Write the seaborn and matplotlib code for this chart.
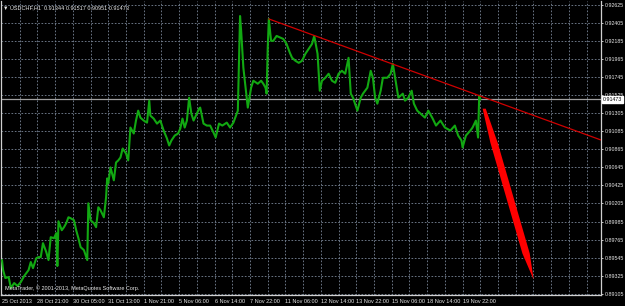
import numpy as np
import pandas as pd
import matplotlib
matplotlib.use("Agg")
import matplotlib.pyplot as plt
import matplotlib.transforms as mtransforms
import seaborn as sns

# ---------------- data ----------------
bars = [0, 1, 3, 6, 8, 11, 14, 17, 20, 22, 24, 26, 28, 31, 33, 35, 37, 40, 42, 44,
        47, 49, 50, 51, 54, 56, 58, 60, 62, 65, 67, 69, 71, 74, 77, 78, 80, 83, 85, 87,
        89, 92, 94, 95, 96, 98, 101, 103, 105, 107, 109, 112, 114, 116, 119, 121, 123, 125, 128, 131,
        133, 134, 137, 140, 143, 146, 149, 151, 153, 156, 159, 161, 163, 165, 167, 169, 171, 173, 176, 178,
        179, 182, 185, 188, 191, 193, 196, 199, 203, 206, 209, 212, 213, 215, 216, 218, 220, 222, 225, 227,
        231, 234, 236, 238, 239, 240, 241, 243, 245, 248, 252, 254, 257, 260, 262, 265, 268, 271, 274, 277,
        280, 282, 285, 287, 289, 292, 295, 298, 301, 304, 307, 310, 313, 315, 317, 321, 324, 326, 330, 333,
        335, 337, 339, 342, 344, 348, 351, 353, 356, 358, 362, 364, 367, 370, 372, 375, 378, 382, 385, 389,
        392, 396, 400, 405, 409, 412, 415, 416, 419, 423, 425, 428, 430, 431, 432]
close = [0.89515, 0.89393, 0.89296, 0.89308, 0.89175, 0.89235, 0.89199, 0.89247, 0.89320, 0.89357,
         0.89393, 0.89491, 0.89417, 0.89539, 0.89551, 0.89551, 0.89721, 0.89612, 0.89515, 0.89794,
         0.89782, 0.89843, 0.89442, 0.89988, 0.89879, 0.89916, 0.89964, 0.90037, 0.90025, 0.90001,
         0.89879, 0.89782, 0.89673, 0.89636, 0.89515, 0.90207, 0.90001, 0.89964, 0.89916, 0.90159,
         0.90122, 0.90037, 0.90280, 0.90511, 0.90450, 0.90645, 0.90487, 0.90705, 0.90730, 0.90766,
         0.90875, 0.90815, 0.90730, 0.91131, 0.91058, 0.91216, 0.91337, 0.91252, 0.91216, 0.91191,
         0.91459, 0.91276, 0.91240, 0.91179, 0.91216, 0.91094, 0.90997, 0.90912, 0.90973, 0.91033,
         0.91058, 0.91118, 0.91240, 0.91131, 0.91216, 0.91495, 0.91301, 0.91216, 0.91301, 0.91361,
         0.91374, 0.91179, 0.91155, 0.91155, 0.91070, 0.91009, 0.91179, 0.91155, 0.91191, 0.91131,
         0.91191, 0.91301, 0.91337, 0.92491, 0.92309, 0.91860, 0.91617, 0.91374, 0.91617, 0.91702,
         0.91665, 0.91702, 0.91665, 0.91617, 0.91544, 0.92103, 0.92455, 0.92188, 0.92188, 0.92248,
         0.92224, 0.92212, 0.92151, 0.92042, 0.91981, 0.91945, 0.91920, 0.91945, 0.92030, 0.92090,
         0.92151, 0.92248, 0.92030, 0.91580, 0.91702, 0.91738, 0.91787, 0.91702, 0.91677, 0.91787,
         0.91823, 0.91787, 0.91981, 0.91544, 0.91495, 0.91337, 0.91495, 0.91544, 0.91617, 0.91823,
         0.91738, 0.91495, 0.91422, 0.91580, 0.91738, 0.91738, 0.91787, 0.91908, 0.91665, 0.91495,
         0.91544, 0.91459, 0.91495, 0.91580, 0.91422, 0.91337, 0.91301, 0.91252, 0.91337, 0.91240,
         0.91155, 0.91216, 0.91131, 0.91094, 0.91155, 0.91033, 0.90973, 0.90888, 0.91033, 0.91094,
         0.91131, 0.91216, 0.91009, 0.91519, 0.91473]

trend_bars = [241, 541]
trend_prices = [0.92455, 0.90979]

proj_bars = [435.5, 480.0]
proj_prices = [0.91361, 0.89284]

bid_price = 0.91473

y_ticks = [0.92625, 0.92405, 0.92185, 0.91965, 0.91745, 0.91525, 0.91305, 0.91085, 0.90865,
           0.90645, 0.90425, 0.90205, 0.89985, 0.89765, 0.89545, 0.89325, 0.89105]
x_tick_bars = [0, 32, 64, 96, 128, 160, 192, 224, 256, 288, 320, 352, 384, 416]
x_tick_labels = ["25 Oct 2013", "28 Oct 21:00", "30 Oct 05:00", "31 Oct 13:00", "1 Nov 21:00",
                 "5 Nov 06:00", "6 Nov 14:00", "7 Nov 22:00", "11 Nov 06:00", "12 Nov 14:00",
                 "13 Nov 22:00", "15 Nov 06:00", "18 Nov 14:00", "19 Nov 22:00"]

title_text = "\u25BC USDCHF,H1  0.91344 0.91517 0.90951 0.91473"
copyright_text = "MetaTrader, \u00A9 2001-2013, MetaQuotes Software Corp."

# ---------------- style ----------------
sns.set_theme(style="dark")
plt.rcParams['font.family'] = ['Liberation Sans', 'DejaVu Sans']
fg = '#e8e8e8'
grid_c = '#7a8799'
fs = 4.0
fsy = 3.8

fig = plt.figure(figsize=(6.25, 3.06), dpi=100, facecolor='black')
ax = fig.add_axes([1/625, 11/306, 600/625, 294/306])
ax.set_facecolor('black')

ax.set_xlim(-0.9, 541.0)
ax.set_ylim(0.89089, 0.92674)

# grid
for b in range(16, 541, 16):
    ax.axvline(b, color=grid_c, lw=0.6, ls=(0, (2, 2)), zorder=1)
for yv in y_ticks:
    ax.axhline(yv, color=grid_c, lw=0.6, ls=(0, (2, 2)), zorder=1)

# price line
df = pd.DataFrame({"bar": bars, "close": close})
sns.lineplot(data=df, x="bar", y="close", ax=ax, color='#12a812', lw=1.5,
             estimator=None, sort=False, zorder=3)

# bid line
ax.axhline(bid_price, color='#a0a0a0', lw=0.9, zorder=2)

# trend line
ax.plot(trend_bars, trend_prices, color='#d00000', lw=0.9, zorder=4)

# projection wedge
x0, x1 = proj_bars
y0, y1 = proj_prices
t = np.array([0.0, 0.2, 0.85, 1.0])
hw = np.array([1.4, 3.3, 3.3, 0.1])
cx = x0 + (x1 - x0) * t
cy = y0 + (y1 - y0) * t
poly_x = np.concatenate([cx + hw, (cx - hw)[::-1]])
poly_y = np.concatenate([cy, cy[::-1]])
ax.fill(poly_x, poly_y, color='#ff0000', lw=0, zorder=5)

# ticks
ax.yaxis.tick_right()
ax.set_yticks(y_ticks)
ax.set_yticklabels([f"{v:.5f}" for v in y_ticks], color=fg, fontsize=fsy)
ax.set_xticks(x_tick_bars)
ax.set_xticklabels(x_tick_labels, color=fg, fontsize=fs, ha='left')
ax.tick_params(axis='both', colors=fg, length=1.5, width=0.6, pad=1.5)
ax.tick_params(axis='y', pad=1.0)
ax.set_xlabel("")
ax.set_ylabel("")

for side in ['left', 'right', 'bottom']:
    ax.spines[side].set_visible(True)
    ax.spines[side].set_color('#d0d0d0')
    ax.spines[side].set_linewidth(0.9)
ax.spines['top'].set_visible(False)

# bid label
trans = mtransforms.blended_transform_factory(ax.transAxes, ax.transData)
ax.text(1.003, bid_price, f"{bid_price:.5f}", transform=trans, fontsize=fsy, color='black',
        va='center', ha='left',
        bbox=dict(boxstyle='square,pad=0.12', fc='white', ec='white'), zorder=10, clip_on=False)

# texts
ax.text(0.004, 0.987, title_text, transform=ax.transAxes, fontsize=fs, color=fg,
        va='top', ha='left')
ax.text(0.006, 0.012, copyright_text, transform=ax.transAxes, fontsize=fs, color=fg,
        va='bottom', ha='left')

fig.savefig("out.png", dpi=100, facecolor='black')
